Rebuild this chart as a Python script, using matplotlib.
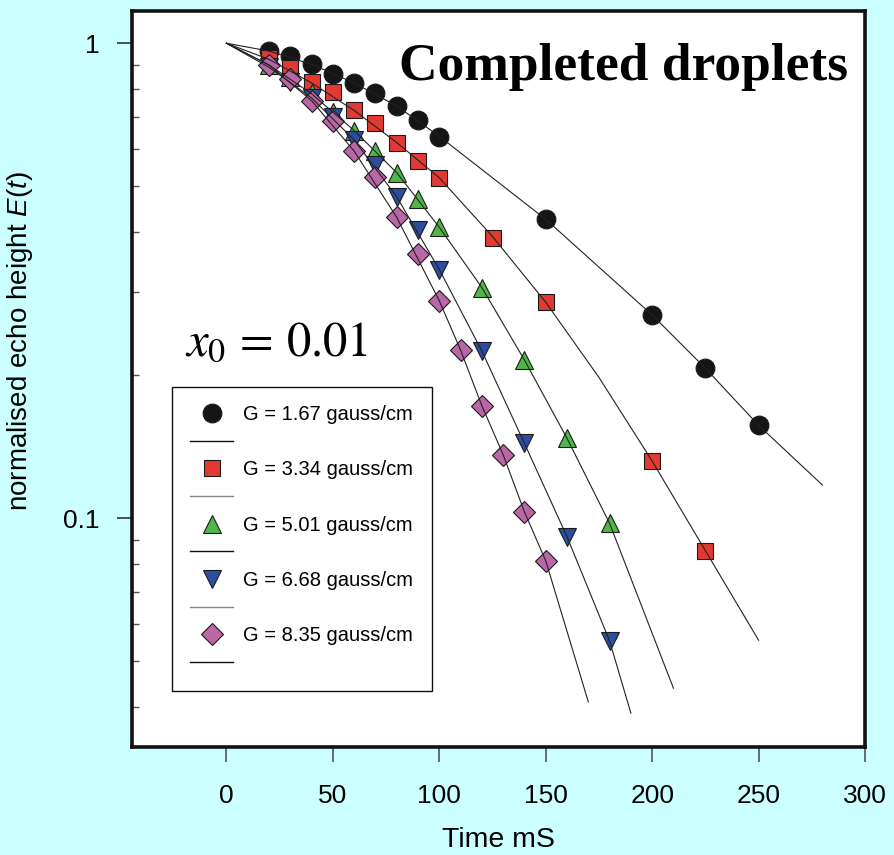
import matplotlib

matplotlib.use('Agg')
import matplotlib.pyplot as plt
from matplotlib.lines import Line2D
from matplotlib.ticker import FixedLocator, FuncFormatter, LogLocator, NullFormatter

plt.rcParams['font.family'] = ['Liberation Sans', 'DejaVu Sans']
plt.rcParams['mathtext.fontset'] = 'custom'
plt.rcParams['mathtext.rm'] = 'Liberation Sans'
plt.rcParams['mathtext.it'] = 'Liberation Sans:italic'

# measured echo heights (markers)
t_g1 = [20, 30, 40, 50, 60, 70, 80, 90, 100, 150, 200, 225, 250]
e_g1 = [0.965, 0.940, 0.903, 0.863, 0.824, 0.785, 0.737, 0.691, 0.635, 0.426, 0.268, 0.207, 0.157]
t_g2 = [20, 30, 40, 50, 60, 70, 80, 90, 100, 125, 150, 200, 225]
e_g2 = [0.930, 0.887, 0.830, 0.789, 0.724, 0.680, 0.618, 0.564, 0.521, 0.390, 0.285, 0.132, 0.0855]
t_g3 = [20, 30, 40, 50, 60, 70, 80, 90, 100, 120, 140, 160, 180]
e_g3 = [0.900, 0.849, 0.785, 0.718, 0.655, 0.593, 0.534, 0.470, 0.410, 0.306, 0.2154, 0.1474, 0.0976]
t_g4 = [20, 30, 40, 50, 60, 70, 80, 90, 100, 120, 140, 160, 180]
e_g4 = [0.890, 0.830, 0.767, 0.700, 0.626, 0.554, 0.475, 0.405, 0.334, 0.225, 0.1438, 0.0915, 0.0552]
t_g5 = [20, 30, 40, 50, 60, 70, 80, 90, 100, 110, 120, 130, 140, 150]
e_g5 = [0.900, 0.840, 0.756, 0.687, 0.593, 0.522, 0.430, 0.360, 0.287, 0.226, 0.1726, 0.1361, 0.1032, 0.0814]

# fitted curves
fit_t_g1 = [0, 20, 40, 60, 80, 100, 150, 200, 225, 250, 280]
fit_e_g1 = [1.0, 0.963, 0.903, 0.825, 0.738, 0.637, 0.426, 0.268, 0.207, 0.157, 0.1175]
fit_t_g2 = [0, 20, 40, 60, 80, 100, 125, 150, 175, 200, 225, 250]
fit_e_g2 = [1.0, 0.925, 0.825, 0.722, 0.618, 0.521, 0.392, 0.285, 0.198, 0.132, 0.0855, 0.0554]
fit_t_g3 = [0, 20, 40, 60, 80, 100, 120, 140, 160, 180, 210]
fit_e_g3 = [1.0, 0.900, 0.783, 0.655, 0.534, 0.410, 0.306, 0.2154, 0.1474, 0.0976, 0.0439]
fit_t_g4 = [0, 20, 40, 60, 80, 100, 120, 140, 160, 180, 190]
fit_e_g4 = [1.0, 0.890, 0.767, 0.626, 0.475, 0.334, 0.225, 0.1438, 0.0915, 0.0552, 0.0389]
fit_t_g5 = [0, 20, 40, 60, 80, 100, 110, 120, 130, 140, 150, 170]
fit_e_g5 = [1.0, 0.900, 0.757, 0.593, 0.430, 0.287, 0.226, 0.1726, 0.1361, 0.1032, 0.0814, 0.0411]

labels = ['G = 1.67 gauss/cm', 'G = 3.34 gauss/cm', 'G = 5.01 gauss/cm',
          'G = 6.68 gauss/cm', 'G = 8.35 gauss/cm']
x_ticks = [0, 50, 100, 150, 200, 250, 300]

series = [
    (t_g1, e_g1, fit_t_g1, fit_e_g1, 'o', '#151515', 13.5),
    (t_g2, e_g2, fit_t_g2, fit_e_g2, 's', '#e03a33', 11.5),
    (t_g3, e_g3, fit_t_g3, fit_e_g3, '^', '#51b648', 13),
    (t_g4, e_g4, fit_t_g4, fit_e_g4, 'v', '#2d4e9e', 13),
    (t_g5, e_g5, fit_t_g5, fit_e_g5, 'D', '#b967a6', 11),
]
legend_line_colors = ['#111111', '#888888', '#111111', '#888888', '#111111']

fig = plt.figure(figsize=(8.94, 8.55), dpi=100, facecolor='#ccffff')
ax = fig.add_axes([0.1471, 0.1269, 0.8205, 0.8608])
ax.set_facecolor('white')

handles = []
for i, (t, e, ft, fe, mk, col, ms) in enumerate(series):
    ax.plot(t, e, linestyle='none', marker=mk, markersize=ms, markerfacecolor=col,
            markeredgecolor='#1a1a1a', markeredgewidth=0.8, zorder=2)
    ax.plot(ft, fe, color='#222222', linewidth=0.8, zorder=3)
    handles.append(Line2D([], [], linestyle='none', marker=mk, markersize=ms,
                          markerfacecolor=col, markeredgecolor='#1a1a1a',
                          markeredgewidth=0.8, label=labels[i]))
    handles.append(Line2D([], [], color=legend_line_colors[i], linewidth=1.0, label=' '))

ax.set_yscale('log')
ax.set_xlim(-44.6, 300)
ax.set_ylim(0.0331, 1.172)

ax.xaxis.set_major_locator(FixedLocator(x_ticks))
ax.yaxis.set_major_locator(FixedLocator([0.1, 1]))
ax.yaxis.set_major_formatter(FuncFormatter(lambda v, p: '%g' % v))
ax.yaxis.set_minor_locator(LogLocator(base=10, subs=[0.2, 0.3, 0.4, 0.5, 0.6, 0.7, 0.8, 0.9]))
ax.yaxis.set_minor_formatter(NullFormatter())

ax.tick_params(axis='x', which='major', direction='out', length=11, width=1.2,
               color='#555555', labelsize=19, pad=16)
ax.tick_params(axis='y', which='major', direction='out', length=11, width=1.2,
               color='#333333', labelsize=19, pad=12)
ax.tick_params(axis='y', which='minor', direction='in', length=5, width=1.0,
               color='#555555')
ax.tick_params(axis='x', which='minor', bottom=False)

for sp in ax.spines.values():
    sp.set_linewidth(2.6)
    sp.set_color('#111111')

ax.set_xlabel('Time mS', fontsize=20.5)
ax.xaxis.set_label_coords(0.5, -0.109)
ax.set_ylabel('normalised echo height $E(t)$', fontsize=20)
ax.yaxis.set_label_coords(-0.1316, 0.551)

ax.text(0.977, 0.9056, 'Completed droplets', transform=ax.transAxes, ha='right',
        va='baseline', fontsize=38.5, fontweight='bold', family='Liberation Serif')
ax.text(0.073, 0.532, r'$x_0 \,=\, 0.01$', transform=ax.transAxes, ha='left',
        va='baseline', fontsize=35, math_fontfamily='stix')

leg = ax.legend(handles=handles, loc='upper left', bbox_to_anchor=(0.0552, 0.4885),
                borderaxespad=0, fontsize=14.5, handlelength=2.15, handletextpad=0.5,
                labelspacing=0.43, borderpad=0.9, fancybox=False, framealpha=1,
                edgecolor='#111111')
leg.get_frame().set_linewidth(1.0)

fig.savefig('out.png', dpi=100, facecolor=fig.get_facecolor())
